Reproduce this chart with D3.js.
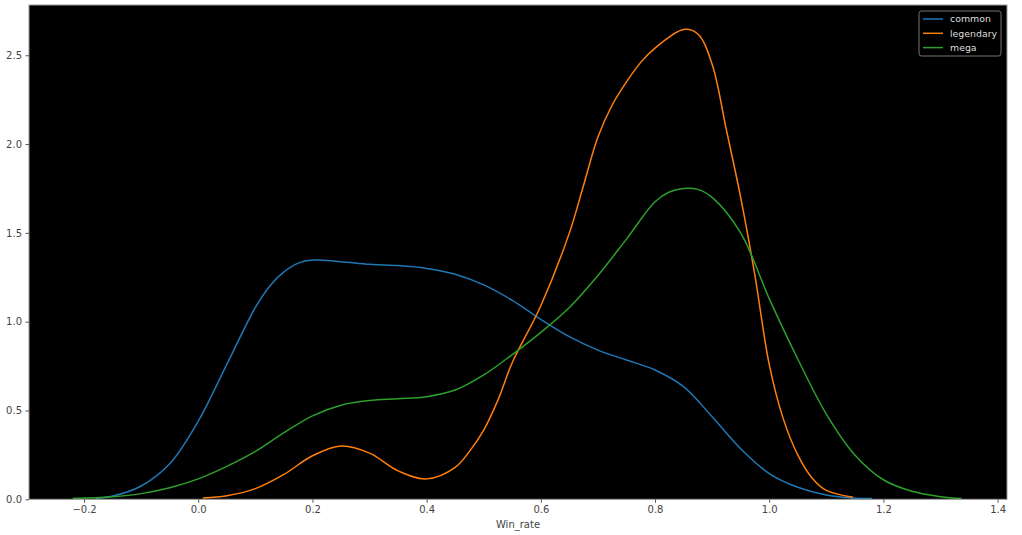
<!DOCTYPE html>
<html>
<head>
<meta charset="utf-8">
<script src="https://cdn.jsdelivr.net/npm/d3@7/dist/d3.min.js"></script>
<style>
  html, body { margin: 0; padding: 0; background: #fff; }
  svg { display: block; font-family: "DejaVu Sans", sans-serif; }
</style>
</head>
<body>
<svg id="chart" width="1022" height="535"></svg>
<script>
// ---- data ----
const seriesNames = ["common", "legendary", "mega"];
const seriesColors = ["#1f77b4", "#ff7f0e", "#2ca02c"];

const commonX = [-0.18, -0.15, -0.10, -0.05, 0.00, 0.05, 0.10, 0.125, 0.15, 0.175, 0.20, 0.25, 0.30, 0.35, 0.40, 0.45, 0.50, 0.55, 0.60, 0.65, 0.70, 0.75, 0.80, 0.85, 0.90, 0.95, 1.00, 1.05, 1.10, 1.15, 1.18];
const commonY = [0.004, 0.018, 0.075, 0.2, 0.44, 0.76, 1.08, 1.2, 1.28, 1.33, 1.347, 1.338, 1.323, 1.316, 1.30, 1.267, 1.207, 1.12, 1.013, 0.916, 0.84, 0.784, 0.728, 0.634, 0.465, 0.285, 0.145, 0.068, 0.024, 0.006, 0.002];

const legendaryX = [0.008, 0.05, 0.10, 0.15, 0.20, 0.25, 0.30, 0.35, 0.40, 0.45, 0.475, 0.50, 0.525, 0.55, 0.60, 0.65, 0.675, 0.70, 0.725, 0.75, 0.775, 0.80, 0.85, 0.875, 0.90, 0.925, 0.95, 0.975, 1.00, 1.025, 1.05, 1.075, 1.10, 1.147];
const legendaryY = [0.008, 0.02, 0.06, 0.14, 0.245, 0.30, 0.26, 0.16, 0.115, 0.18, 0.27, 0.39, 0.56, 0.77, 1.09, 1.50, 1.77, 2.04, 2.22, 2.35, 2.46, 2.54, 2.645, 2.62, 2.45, 2.08, 1.70, 1.26, 0.76, 0.45, 0.25, 0.12, 0.05, 0.012];

const megaX = [-0.22, -0.15, -0.10, -0.05, 0.00, 0.05, 0.10, 0.15, 0.20, 0.25, 0.30, 0.35, 0.40, 0.45, 0.50, 0.55, 0.60, 0.65, 0.70, 0.75, 0.80, 0.825, 0.85, 0.875, 0.90, 0.95, 1.00, 1.05, 1.10, 1.15, 1.20, 1.25, 1.30, 1.337];
const megaY = [0.004, 0.014, 0.032, 0.065, 0.115, 0.185, 0.27, 0.375, 0.47, 0.53, 0.556, 0.566, 0.578, 0.615, 0.70, 0.815, 0.94, 1.08, 1.26, 1.465, 1.675, 1.73, 1.75, 1.745, 1.70, 1.50, 1.13, 0.79, 0.48, 0.25, 0.11, 0.045, 0.015, 0.005];

const xTicks = [-0.2, 0.0, 0.2, 0.4, 0.6, 0.8, 1.0, 1.2, 1.4];
const yTicks = [0.0, 0.5, 1.0, 1.5, 2.0, 2.5];
const xLabel = "Win_rate";

// ---- layout ----
const svg = d3.select("#chart");
const plot = { left: 29, top: 5, right: 1007, bottom: 499.3 };

const x = d3.scaleLinear().domain([-0.2965, 1.4165]).range([plot.left, plot.right]);
const y = d3.scaleLinear().domain([0, 2.783]).range([plot.bottom, plot.top]);

svg.append("rect")
  .attr("x", plot.left).attr("y", plot.top)
  .attr("width", plot.right - plot.left).attr("height", plot.bottom - plot.top)
  .attr("fill", "#000");

const series = [
  { xs: commonX, ys: commonY },
  { xs: legendaryX, ys: legendaryY },
  { xs: megaX, ys: megaY }
];

const line = d3.line()
  .x(d => x(d[0]))
  .y(d => Math.min(y(d[1]), plot.bottom - 0.8))
  .curve(d3.curveCatmullRom.alpha(0.5));

series.forEach((s, i) => {
  const pts = s.xs.map((v, j) => [v, s.ys[j]]);
  svg.append("path")
    .datum(pts)
    .attr("d", line)
    .attr("fill", "none")
    .attr("stroke", seriesColors[i])
    .attr("stroke-width", 1.5)
    .attr("stroke-linejoin", "round");
});

// frame
svg.append("rect")
  .attr("x", plot.left).attr("y", plot.top)
  .attr("width", plot.right - plot.left).attr("height", plot.bottom - plot.top)
  .attr("fill", "none").attr("stroke", "#999").attr("stroke-width", 1);

// axes
const xAxis = d3.axisBottom(x).tickValues(xTicks).tickSize(3.5).tickPadding(3.5)
  .tickFormat(d => d3.format(".1f")(d).replace("-", "\u2212"));
const yAxis = d3.axisLeft(y).tickValues(yTicks).tickSize(3.5).tickPadding(3.5)
  .tickFormat(d3.format(".1f"));

const gx = svg.append("g").attr("transform", `translate(0,${plot.bottom})`).call(xAxis);
const gy = svg.append("g").attr("transform", `translate(${plot.left},0)`).call(yAxis);
[gx, gy].forEach(g => {
  g.select(".domain").remove();
  g.selectAll(".tick line").attr("stroke", "#555");
  g.selectAll(".tick text").attr("fill", "#444").attr("font-size", 10)
    .attr("font-family", "DejaVu Sans, sans-serif");
});

svg.append("text")
  .attr("x", (plot.left + plot.right) / 2)
  .attr("y", 528)
  .attr("text-anchor", "middle")
  .attr("fill", "#444")
  .attr("font-size", 10)
  .text(xLabel);

// legend
const lg = svg.append("g").attr("transform", "translate(919,11)");
lg.append("rect")
  .attr("width", 82).attr("height", 45).attr("rx", 2.5)
  .attr("fill", "#000").attr("stroke", "#777").attr("stroke-width", 1);
seriesNames.forEach((name, i) => {
  const yy = 8 + i * 14.3;
  lg.append("line")
    .attr("x1", 4).attr("x2", 24).attr("y1", yy).attr("y2", yy)
    .attr("stroke", seriesColors[i]).attr("stroke-width", 1.5);
  lg.append("text")
    .attr("x", 31).attr("y", yy).attr("dy", "0.35em")
    .attr("fill", "#ddd").attr("font-size", 9.4)
    .text(name);
});
</script>
</body>
</html>
